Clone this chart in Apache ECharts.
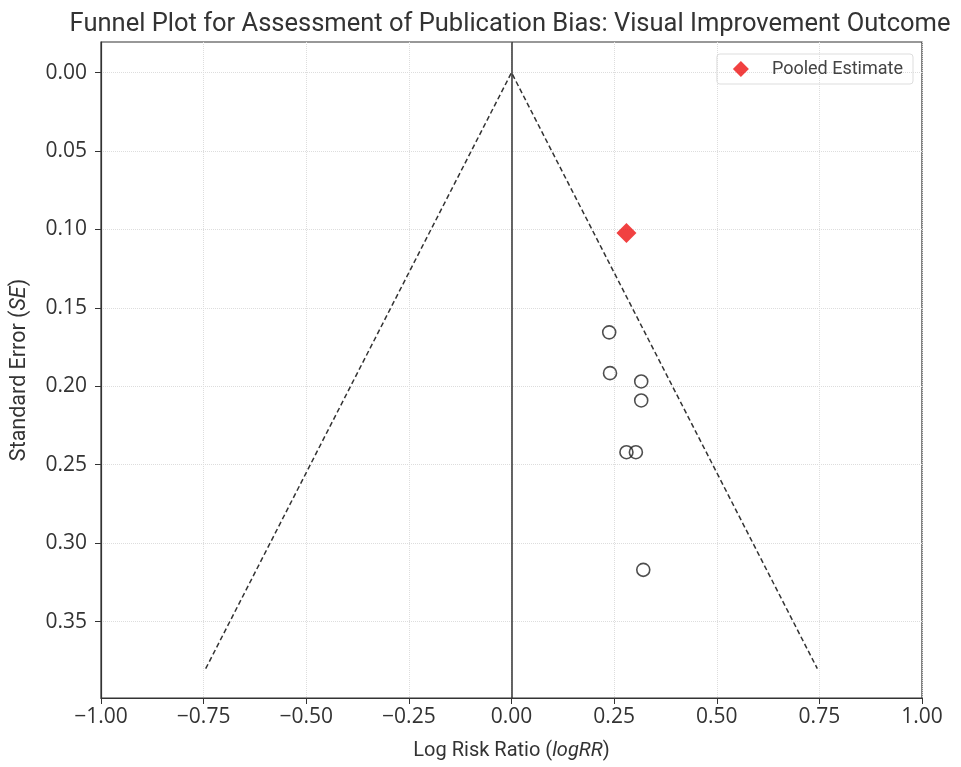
<!DOCTYPE html>
<html>
<head>
<meta charset="utf-8">
<script src="https://cdn.jsdelivr.net/npm/echarts@6/dist/echarts.min.js"></script>
<style>html,body{margin:0;padding:0;background:#fff;}#c{width:961px;height:767px;}</style>
</head>
<body>
<div id="c"></div>
<script>
// Data
const studyLogRR = [0.238, 0.240, 0.316, 0.316, 0.280, 0.303, 0.321];
const studySE    = [0.1656, 0.1916, 0.1969, 0.2090, 0.2420, 0.2420, 0.3170];
const pooledLogRR = [0.280];
const pooledSE    = [0.1023];
const funnelX = [-0.745, 0, 0.745];
const funnelY = [0.38, 0, 0.38];
const yTicks = [0, 0.05, 0.10, 0.15, 0.20, 0.25, 0.30, 0.35];
const xTicks = [-1.00, -0.75, -0.50, -0.25, 0.00, 0.25, 0.50, 0.75, 1.00];

const fmt = v => (v < -1e-9 ? '\u2212' : '') + Math.abs(v).toFixed(2);
const FONT = 'Roboto';
const TICKFONT = 'Open Sans';
const chart = echarts.init(document.getElementById('c'), null, {renderer: 'canvas'});
chart.setOption({
  animation: false,
  backgroundColor: '#fff',
  title: {
    text: 'Funnel Plot for Assessment of Publication Bias: Visual Improvement Outcome',
    left: 505, top: 7, textAlign: 'center',
    textStyle: {fontFamily: FONT, fontSize: 25.5, fontWeight: 'normal', color: '#333'}
  },
  legend: {
    data: [{name: 'Pooled Estimate', icon: 'diamond'}],
    right: 48, top: 54,
    itemWidth: 16, itemHeight: 16, itemGap: 10,
    padding: [6, 10, 6, 16],
    borderColor: '#ddd', borderWidth: 1, borderRadius: 3,
    textStyle: {fontFamily: FONT, fontSize: 18, color: '#444', padding: [0, 0, 0, 18]}
  },
  grid: {left: 101, right: 39, top: 42, bottom: 69, show: true, borderColor: '#333', borderWidth: 1.2, backgroundColor: 'transparent', outerBoundsMode: 'none', containLabel: false},
  xAxis: {
    type: 'value', min: -1, max: 1, interval: 0.25,
    name: 'Log Risk Ratio ({i|logRR})', nameLocation: 'middle', nameGap: 43,
    nameTextStyle: {fontFamily: FONT, fontSize: 20, color: '#333', rich: {i: {fontStyle: 'italic', fontFamily: FONT, fontSize: 20, color: '#333'}}},
    axisLine: {show: true, onZero: false, lineStyle: {color: '#333', width: 1.2}},
    axisTick: {show: true, length: 6, lineStyle: {color: '#333'}},
    axisLabel: {fontFamily: TICKFONT, fontSize: 21, color: '#333', margin: 9, formatter: fmt, showMinLabel: true, showMaxLabel: true},
    splitLine: {show: true, lineStyle: {color: '#ddd', type: 'dotted', width: 1}}
  },
  yAxis: {
    type: 'value', min: -0.0195, max: 0.3987, inverse: true,
    name: 'Standard Error ({i|SE})', nameLocation: 'middle', nameGap: 70,
    nameTextStyle: {fontFamily: FONT, fontSize: 21.5, color: '#333', rich: {i: {fontStyle: 'italic', fontFamily: FONT, fontSize: 21.5, color: '#333'}}},
    axisLine: {show: true, onZero: false, lineStyle: {color: '#333', width: 1.2}},
    axisTick: {show: true, length: 6, lineStyle: {color: '#333'}, customValues: yTicks},
    axisLabel: {fontFamily: TICKFONT, fontSize: 21, color: '#333', margin: 14, formatter: fmt, customValues: yTicks},
    splitLine: {show: true, lineStyle: {color: '#ddd', type: 'dotted', width: 1}}
  },
  series: [
    {
      type: 'line', name: 'Funnel', data: funnelX.map((x, i) => [x, funnelY[i]]),
      symbol: 'none', lineStyle: {color: '#333', type: [5, 3], width: 1.5}, z: 2,
      markLine: {
        silent: true, symbol: 'none', label: {show: false},
        lineStyle: {color: '#333', type: 'solid', width: 1.5},
        data: [{xAxis: 0}]
      }
    },
    {
      type: 'scatter', name: 'Studies', data: studyLogRR.map((x, i) => [x, studySE[i]]),
      symbol: 'circle', symbolSize: 13,
      itemStyle: {color: 'rgba(255,255,255,0)', borderColor: '#222', borderWidth: 1.6}, z: 3
    },
    {
      type: 'scatter', name: 'Pooled Estimate', data: pooledLogRR.map((x, i) => [x, pooledSE[i]]),
      symbol: 'diamond', symbolSize: 20,
      itemStyle: {color: '#ee1111'}, z: 4
    }
  ]
});
</script>
</body>
</html>
